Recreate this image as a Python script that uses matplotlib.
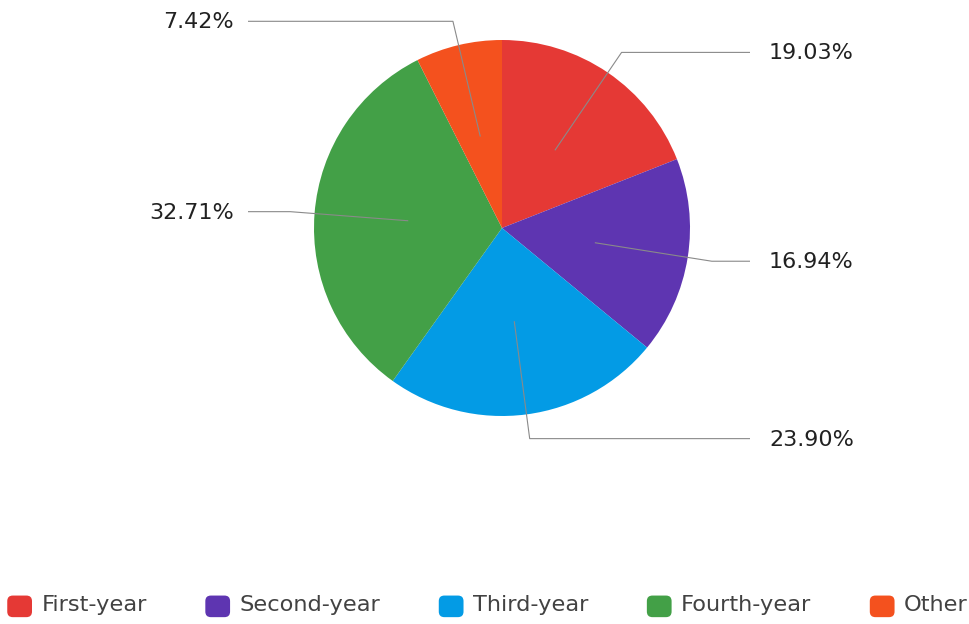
import numpy as np
import matplotlib.pyplot as plt
from matplotlib.patches import Patch, FancyBboxPatch
from matplotlib.legend_handler import HandlerPatch

plt.rcParams['font.family'] = ['DejaVu Sans']

categories = ['First-year', 'Second-year', 'Third-year', 'Fourth-year', 'Other']
shares = [19.03, 16.94, 23.90, 32.71, 7.42]
colors = ['#E53935', '#5E35B1', '#039BE5', '#43A047', '#F4511E']


class RoundBox(HandlerPatch):
    def create_artists(self, legend, orig_handle, xdescent, ydescent, width, height, fontsize, trans):
        box = FancyBboxPatch((-xdescent, -ydescent - 2), width, height,
                             boxstyle='round,pad=0,rounding_size=4',
                             fc=orig_handle.get_facecolor(), ec='none', transform=trans)
        return [box]


fig = plt.figure(figsize=(9.7, 6.24), dpi=100)
ax = fig.add_axes([0, 0, 1, 1])

cx, cy, R = 502, 624 - 228, 188
wedges, _ = ax.pie(shares, colors=colors, startangle=90, counterclock=False,
                   center=(cx, cy), radius=R, wedgeprops=dict(linewidth=0))

for w, val in zip(wedges, shares):
    ang = np.radians((w.theta1 + w.theta2) / 2)
    c, s = np.cos(ang), np.sin(ang)
    x0, y0 = cx + 0.5 * R * c, cy + 0.5 * R * s
    x1, y1 = cx + 1.13 * R * c, cy + 1.13 * R * s
    if c > 0:
        x2, tx, ha = 750, 769, 'left'
    else:
        x2, tx, ha = 248, 234, 'right'
    ax.plot([x0, x1, x2], [y0, y1, y1], color='#8a8a8a', lw=0.8, solid_capstyle='butt')
    ax.text(tx, y1 - 1, f'{val:.2f}%', ha=ha, va='center', fontsize=16, color='#212121')

ax.set_xlim(0, 970)
ax.set_ylim(0, 624)
ax.axis('off')

handles = [Patch(facecolor=col) for col in colors]
fig.legend(handles, categories, loc='center', bbox_to_anchor=(487.5 / 970, 1 - 604 / 624),
           ncol=5, frameon=False, fontsize=16.2, handler_map={Patch: RoundBox()},
           handlelength=1.1, handleheight=1.1, handletextpad=0.42, columnspacing=2.6,
           labelcolor='#424242')

fig.savefig('out.png', dpi=100)
